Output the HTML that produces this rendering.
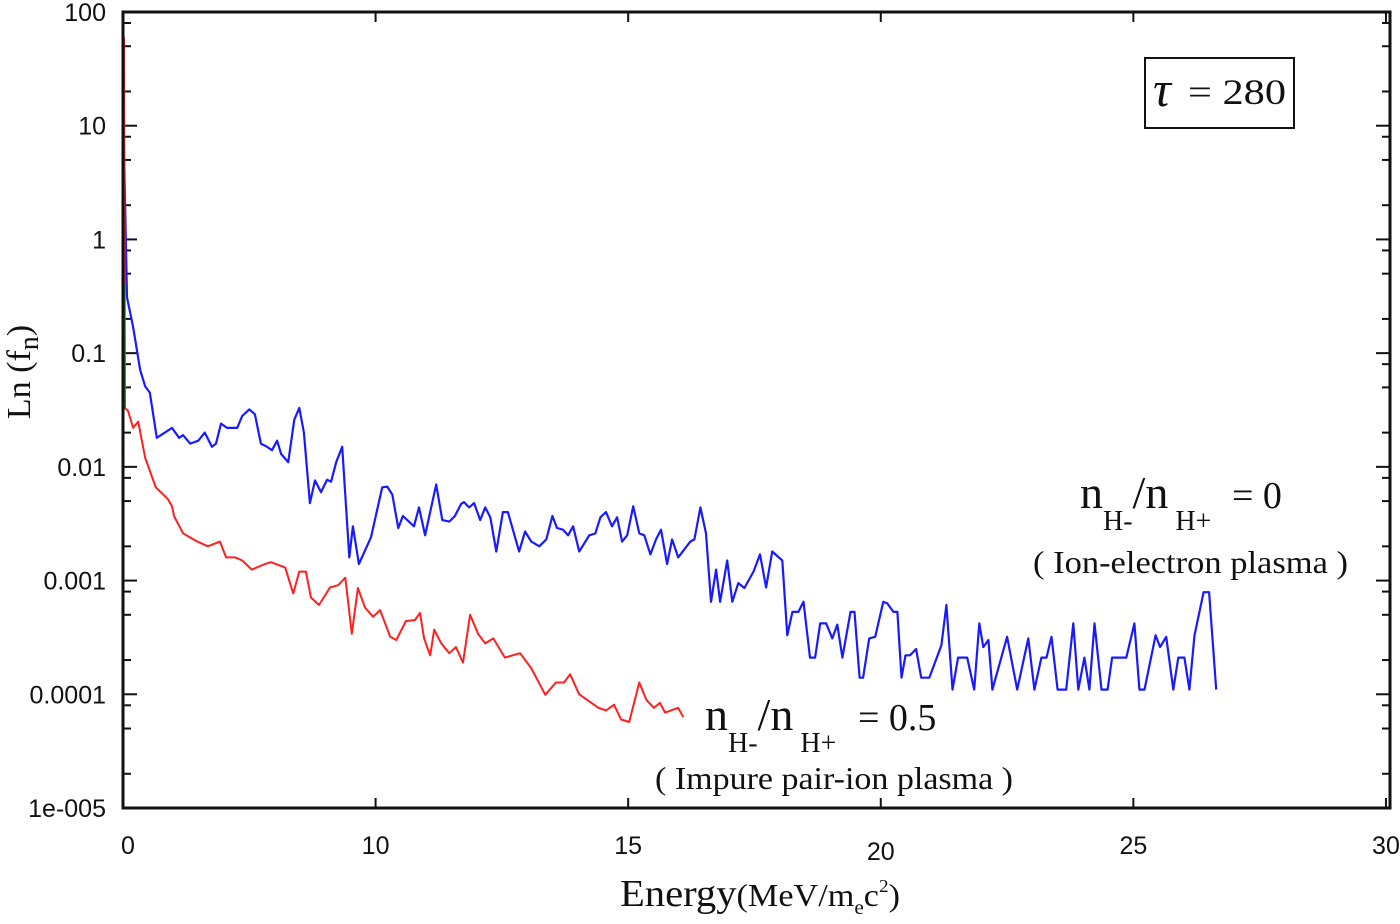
<!DOCTYPE html>
<html><head><meta charset="utf-8">
<style>
html,body{margin:0;padding:0;background:#fff;}
svg{display:block;}
text{font-family:"Liberation Serif",serif;}
.tick{font-family:"Liberation Sans",sans-serif;}
</style></head>
<body>
<svg id="chart" width="1400" height="924" viewBox="0 0 1400 924" xmlns="http://www.w3.org/2000/svg">
<rect x="0" y="0" width="1400" height="924" fill="#fff"/>
<g id="ticks"></g>
<g id="series"></g>
<rect x="123" y="12" width="1267" height="796" fill="none" stroke="#111" stroke-width="3"/>
<g id="labels"></g>
<text transform="translate(30,372) rotate(-90)" text-anchor="middle" font-size="34" fill="#111">Ln (f<tspan font-size="28" dy="8">n</tspan><tspan dy="-8">)</tspan></text>
<text x="620" y="906" font-size="38" fill="#111" textLength="280" lengthAdjust="spacingAndGlyphs">Energy<tspan font-size="32">(MeV/m<tspan font-size="20" dy="8">e</tspan><tspan dy="-8">c</tspan><tspan font-size="18" dy="-14">2</tspan><tspan dy="14">)</tspan></tspan></text>
<g>
<rect x="1145" y="58" width="149" height="70" fill="#fff" stroke="#111" stroke-width="2"/>
<text x="1153" y="106" font-size="50" font-style="italic" fill="#111">τ</text>
<text x="1188" y="104" font-size="36" fill="#111" textLength="98" lengthAdjust="spacingAndGlyphs">= 280</text>
</g>
<g>
<text x="1080" y="508" font-size="46" fill="#111">n<tspan font-size="28" dy="22">H-</tspan><tspan font-size="46" dy="-22">/n</tspan><tspan font-size="28" dy="22"> H+</tspan><tspan font-size="38" dy="-22" x="1232">=  0</tspan></text>
<text x="1033" y="573" font-size="32" fill="#111" textLength="315" lengthAdjust="spacingAndGlyphs">( Ion-electron plasma )</text>
</g>
<g>
<text x="705" y="730" font-size="46" fill="#111">n<tspan font-size="28" dy="22">H-</tspan><tspan font-size="46" dy="-22">/n</tspan><tspan font-size="28" dy="22"> H+</tspan><tspan font-size="38" dy="-22" x="858">= 0.5</tspan></text>
<text x="655" y="789" font-size="32" fill="#111" textLength="358" lengthAdjust="spacingAndGlyphs">( Impure pair-ion plasma )</text>
</g>
</svg>
<script>
const xTickVals=[5,10,15,20,25,30];
const xTickLabels=["0","10","15","20","25","30"];
const yTickVals=[100,10,1,0.1,0.01,0.001,0.0001,0.00001];
const yTickLabels=["100","10","1","0.1","0.01","0.001","0.0001","1e-005"];
const yMinorMult=[2,5,8];

const blueE=[5.02,5.08,5.2,5.34,5.44,5.53,5.67,5.97,6.11,6.19,6.33,6.49,6.62,6.76,6.84,6.94,7.06,7.26,7.36,7.5,7.61,7.73,7.85,7.95,8.05,8.13,8.27,8.39,8.49,8.58,8.7,8.8,8.92,9.04,9.12,9.22,9.34,9.48,9.55,9.67,9.91,10.13,10.23,10.33,10.45,10.54,10.76,10.86,10.98,11.2,11.32,11.46,11.57,11.69,11.75,11.85,11.95,12.07,12.17,12.27,12.39,12.52,12.62,12.84,12.96,13.08,13.24,13.38,13.5,13.59,13.71,13.81,13.91,14.03,14.23,14.35,14.45,14.56,14.68,14.78,14.88,14.98,15.1,15.22,15.32,15.44,15.55,15.65,15.77,15.87,15.99,16.23,16.31,16.43,16.54,16.64,16.74,16.82,16.96,17.06,17.18,17.3,17.48,17.61,17.73,17.85,18.05,18.15,18.25,18.37,18.47,18.6,18.7,18.8,18.92,19.04,19.14,19.24,19.4,19.48,19.58,19.65,19.77,19.89,20.05,20.13,20.25,20.33,20.41,20.49,20.58,20.7,20.8,20.96,21.2,21.3,21.42,21.53,21.71,21.85,21.95,22.03,22.13,22.21,22.5,22.7,22.92,23.04,23.18,23.28,23.38,23.5,23.67,23.81,23.91,24.03,24.13,24.23,24.37,24.49,24.58,24.86,25.02,25.12,25.22,25.44,25.53,25.65,25.79,25.89,26.01,26.11,26.21,26.39,26.5,26.64];
const blueF=[6.1,0.31,0.17,0.071,0.051,0.045,0.018,0.022,0.018,0.019,0.016,0.017,0.020,0.015,0.016,0.024,0.022,0.022,0.028,0.032,0.029,0.016,0.015,0.014,0.017,0.013,0.011,0.026,0.033,0.020,0.0048,0.0076,0.0060,0.0077,0.0074,0.011,0.015,0.0016,0.0030,0.0014,0.0024,0.0066,0.0067,0.0057,0.0029,0.0037,0.0030,0.0044,0.0025,0.0070,0.0034,0.0033,0.0037,0.0047,0.0049,0.0044,0.0048,0.0034,0.0044,0.0036,0.0018,0.0040,0.0040,0.0018,0.0027,0.0022,0.0020,0.0023,0.0037,0.0029,0.0028,0.0025,0.0030,0.0018,0.0025,0.0026,0.0036,0.0040,0.0030,0.0036,0.0022,0.0025,0.0045,0.0026,0.0025,0.0017,0.0023,0.0028,0.0014,0.0023,0.0016,0.0022,0.0023,0.0044,0.0026,0.00065,0.00125,0.00065,0.0015,0.00065,0.00095,0.00086,0.0012,0.0017,0.00087,0.0018,0.0015,0.00033,0.00053,0.00053,0.00065,0.00021,0.00021,0.00042,0.00042,0.00031,0.00041,0.00021,0.00053,0.00053,0.00014,0.00014,0.00031,0.00032,0.00065,0.00063,0.00053,0.00053,0.00014,0.00022,0.00022,0.00025,0.00014,0.00014,0.00027,0.00061,0.00011,0.00021,0.00021,0.00011,0.00042,0.00026,0.00030,0.00011,0.00032,0.00011,0.00031,0.00011,0.00021,0.00021,0.00032,0.00011,0.00011,0.00042,0.00011,0.00021,0.00011,0.00042,0.00011,0.00011,0.00021,0.00021,0.00042,0.00011,0.00011,0.00033,0.00026,0.00032,0.00011,0.00021,0.00021,0.00011,0.00033,0.00079,0.00079,0.00011];

const redE=[5.02,5.04,5.1,5.2,5.3,5.44,5.65,5.89,5.97,6.01,6.19,6.47,6.68,6.92,7.04,7.22,7.36,7.55,7.81,7.93,8.21,8.37,8.49,8.62,8.72,8.88,9.1,9.26,9.4,9.53,9.65,9.79,9.95,10.09,10.29,10.41,10.6,10.78,10.88,10.96,11.08,11.16,11.3,11.46,11.59,11.73,11.87,12.03,12.17,12.33,12.56,12.86,13.08,13.36,13.57,13.73,13.85,14.03,14.41,14.56,14.72,14.86,15.02,15.22,15.36,15.51,15.63,15.73,15.99,16.09];
const redF=[60,0.033,0.031,0.022,0.025,0.012,0.0066,0.0052,0.0045,0.0037,0.0026,0.0022,0.0020,0.0022,0.0016,0.0016,0.0015,0.00125,0.0014,0.00145,0.0013,0.00077,0.0012,0.0012,0.00071,0.00061,0.00087,0.00091,0.00106,0.00034,0.00086,0.00058,0.00048,0.00055,0.00032,0.00030,0.00044,0.00045,0.00052,0.00031,0.00022,0.00037,0.00028,0.00023,0.00026,0.00019,0.00050,0.00034,0.00028,0.00031,0.00021,0.00023,0.00017,0.000099,0.000127,0.000127,0.00015,0.0001,0.000076,0.000072,0.000081,0.00006,0.000057,0.000127,0.000089,0.000076,0.000084,0.000069,0.000076,0.000063];

const greenE=[5.01,5.01];
const greenF=[0.4,0.032];

const X0=123,X1=1390,Y0=12,Y1=808;
function xs(e){return X0+(e-5)*(X1-X0)/(30.08-5);}
function ys(v){return Y0+(2-Math.log10(v))*(Y1-Y0)/7;}
const NS="http://www.w3.org/2000/svg";
function mk(tag,attrs){const el=document.createElementNS(NS,tag);for(const k in attrs)el.setAttribute(k,attrs[k]);return el;}
const ticks=document.getElementById('ticks'),labels=document.getElementById('labels'),series=document.getElementById('series');

xTickVals.forEach((v,i)=>{
  const x=xs(v);
  if(i>0){
    const t1=mk('line',{x1:x,x2:x,y1:Y1,y2:Y1-10,stroke:'#111','stroke-width':2});
    
    
    ticks.appendChild(t1);
    const t2=mk('line',{x1:x,x2:x,y1:Y0,y2:Y0+10,stroke:'#111','stroke-width':2});
    
    
    ticks.appendChild(t2);
  }
  const lx=i===0?128:x;
  const t=mk('text',{x:lx,y:v===20?860:854,'text-anchor':'middle','font-size':25,fill:'#111','class':'tick'});
  t.textContent=xTickLabels[i];
  
  
  labels.appendChild(t);
});
yTickVals.forEach((v,i)=>{
  const y=ys(v);
  [[X0,14],[X1,-14]].forEach(([xx,len])=>{
    const l=mk('line',{x1:xx,x2:xx+len,y1:y,y2:y,stroke:'#111','stroke-width':2});
    
    
    ticks.appendChild(l);
  });
  if(i>0){yMinorMult.forEach(m=>{
    const yy=ys(v*m);
    [[X0,8],[X1,-8]].forEach(([xx,len])=>{
      const l=mk('line',{x1:xx,x2:xx+len,y1:yy,y2:yy,stroke:'#111','stroke-width':2});
      
      
      ticks.appendChild(l);
    });
  });}
  const t=mk('text',{x:106,y:y+9,'text-anchor':'end','font-size':25,fill:'#111','class':'tick'});
  t.textContent=yTickLabels[i];
  
  
  labels.appendChild(t);
});
function drawLine(E,F,color,name,w){
  const d=E.map((e,i)=>(i?'L':'M')+xs(e).toFixed(1)+','+ys(F[i]).toFixed(1)).join('');
  const p=mk('path',{d:d,fill:'none',stroke:color,'stroke-width':w,'stroke-linejoin':'round'});
  
  
  series.appendChild(p);
}
drawLine(blueE,blueF,'#1a1aff','series-ion-electron',2.2);
drawLine(redE,redF,'#ff2020','series-impure-pair-ion',2);
drawLine(greenE,greenF,'#107010','series-green',3);
</script>
</body></html>
